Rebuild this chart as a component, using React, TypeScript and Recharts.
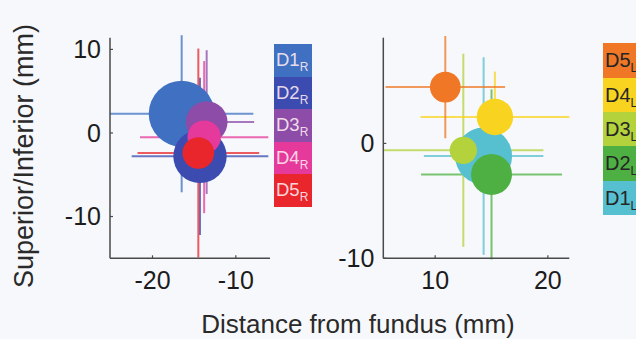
import { ScatterChart, Scatter, XAxis, YAxis, ZAxis, ErrorBar } from 'recharts'

// right-side (R) recordings, plotted in the left panel
const LEFT_LABELS = ['D1', 'D2', 'D3', 'D4', 'D5']
const LEFT_X = [-16.5, -14.3, -13.5, -13.8, -14.5]
const LEFT_Y = [2.3, -2.8, 1.3, -0.5, -2.4]
const LEFT_XERR = [8.6, 8.2, 5.7, 7.7, 7.3]
const LEFT_YERR = [9.4, 9.4, 8.6, 9.1, 12.5]
const LEFT_R = [3.95, 3.2, 2.5, 2.0, 1.9]
const LEFT_X_TICKS = [-20, -10]
const LEFT_Y_TICKS = [-10, 0, 10]

// left-side (L) recordings, plotted in the right panel
const RIGHT_LABELS = ['D1', 'D2', 'D3', 'D4', 'D5']
const RIGHT_X = [14.3, 15.0, 12.5, 15.3, 10.9]
const RIGHT_Y = [-1.1, -2.7, -0.6, 2.3, 4.9]
const RIGHT_XERR = [5.3, 6.25, 7.1, 6.6, 5.3]
const RIGHT_YERR = [8.6, 7.4, 8.4, 3.95, 4.45]
const RIGHT_R = [2.5, 1.8, 1.2, 1.6, 1.35]
const RIGHT_X_TICKS = [10, 20]
const RIGHT_Y_TICKS = [-10, 0]

const LEFT_COLORS = ['#3f70c2', '#3b4bb0', '#8c4ca8', '#e5399c', '#e8262c']
const RIGHT_COLORS = ['#57c0d0', '#4eb043', '#b3d23c', '#f8d31f', '#ef7726']

const FONT = '"Liberation Sans", Arial, Helvetica, sans-serif'
const AXIS = '#4a4a4a'
const BG = '#f7f8fb'
const H = 339
const X_H = 40
const Y_W = 50
const TM_X = 13
const TM_Y = 9

type Row = { label: string; x: number; y: number; xErr: number; yErr: number; z: number }

function rows(labels: string[], xs: number[], ys: number[], xe: number[], ye: number[], rs: number[]): Row[] {
  return labels.map((label, i) => ({ label, x: xs[i], y: ys[i], xErr: xe[i], yErr: ye[i], z: rs[i] * rs[i] }))
}

const xTick = (p: any) => (
  <g>
    <line x1={p.x} x2={p.x} y1={p.y - TM_X} y2={p.y - TM_X - 3} stroke={AXIS} strokeWidth={1.2} />
    <text x={p.x} y={p.y} dy="0.71em" textAnchor="middle" fontSize={25} fontFamily={FONT} fill="#1c1c1c">
      {p.payload.value}
    </text>
  </g>
)

const yTick = (p: any) => (
  <g>
    <line x1={p.x + TM_Y} x2={p.x + TM_Y + 3} y1={p.y} y2={p.y} stroke={AXIS} strokeWidth={1.2} />
    <text x={p.x} y={p.y} dy="0.355em" textAnchor="end" fontSize={25} fontFamily={FONT} fill="#1c1c1c">
      {p.payload.value}
    </text>
  </g>
)

type PanelProps = {
  data: Row[]
  colors: string[]
  xDomain: [number, number]
  yDomain: [number, number]
  xTicks: number[]
  yTicks: number[]
  width: number
  margin: { top: number; right: number; bottom: number; left: number }
}

function Panel({ data, colors, xDomain, yDomain, xTicks, yTicks, width, margin }: PanelProps) {
  const plotW = width - margin.left - margin.right - Y_W
  const plotH = H - margin.top - margin.bottom - X_H
  const k = (plotW / (xDomain[1] - xDomain[0]) + plotH / (yDomain[1] - yDomain[0])) / 2
  const zMax = 25
  return (
    <ScatterChart width={width} height={H} margin={margin}>
      <XAxis
        type="number"
        dataKey="x"
        domain={xDomain}
        ticks={xTicks}
        allowDataOverflow
        height={X_H}
        tickSize={0}
        tickMargin={TM_X}
        tickLine={false}
        axisLine={{ stroke: AXIS, strokeWidth: 1.5 }}
        tick={xTick}
      />
      <YAxis
        type="number"
        dataKey="y"
        domain={yDomain}
        ticks={yTicks}
        allowDataOverflow
        width={Y_W}
        tickSize={0}
        tickMargin={TM_Y}
        tickLine={false}
        axisLine={{ stroke: AXIS, strokeWidth: 1.5 }}
        tick={yTick}
      />
      <ZAxis type="number" dataKey="z" domain={[0, zMax]} range={[0, zMax * Math.PI * k * k]} />
      {data.map((d, i) => (
        <Scatter key={'c' + d.label} data={[d]} fill={colors[i]} isAnimationActive={false} />
      ))}
      {data.map((d, i) => (
        <Scatter key={'e' + d.label} data={[d]} shape={() => <g />} isAnimationActive={false}>
          <ErrorBar dataKey="xErr" direction="x" width={0} stroke={colors[i] + 'c0'} strokeWidth={2} isAnimationActive={false} />
          <ErrorBar dataKey="yErr" direction="y" width={0} stroke={colors[i] + 'c0'} strokeWidth={2} isAnimationActive={false} />
        </Scatter>
      ))}
    </ScatterChart>
  )
}

export default function App() {
  const leftData = rows(LEFT_LABELS, LEFT_X, LEFT_Y, LEFT_XERR, LEFT_YERR, LEFT_R)
  const rightData = rows(RIGHT_LABELS, RIGHT_X, RIGHT_Y, RIGHT_XERR, RIGHT_YERR, RIGHT_R)

  return (
    <div style={{ position: 'absolute', left: 0, top: 0, width: 636, height: H, background: BG, overflow: 'hidden', fontFamily: FONT }}>
      <div style={{ position: 'absolute', left: 0, top: 0 }}>
        <Panel
          data={leftData}
          colors={LEFT_COLORS}
          xDomain={[-25.1, -5.9]}
          yDomain={[-15, 11.4]}
          xTicks={LEFT_X_TICKS}
          yTicks={LEFT_Y_TICKS}
          width={320}
          margin={{ top: 37.7, right: 50, bottom: H - 258.3 - X_H, left: 110 - Y_W }}
        />
      </div>
      <div style={{ position: 'absolute', left: 320, top: 0 }}>
        <Panel
          data={rightData}
          colors={RIGHT_COLORS}
          xDomain={[5.4, 21.9]}
          yDomain={[-10, 9.2]}
          xTicks={RIGHT_X_TICKS}
          yTicks={RIGHT_Y_TICKS}
          width={316}
          margin={{ top: 37.7, right: 316 - 249.3, bottom: H - 258.3 - X_H, left: 63.3 - Y_W }}
        />
      </div>

      {/* legends */}
      <div style={{ position: 'absolute', left: 274, top: 44, width: 38 }}>
        {LEFT_LABELS.map((l, i) => (
          <div key={l} style={{ height: 32.6, lineHeight: '32.6px', background: LEFT_COLORS[i], color: 'rgba(255,236,240,0.9)', fontSize: 18.5, paddingLeft: 2, whiteSpace: 'nowrap' }}>
            {l}
            <sub style={{ fontSize: 12, lineHeight: 0 }}>R</sub>
          </div>
        ))}
      </div>
      <div style={{ position: 'absolute', left: 603, top: 43.3, width: 40 }}>
        {RIGHT_LABELS.map((l, i) => ({ l, c: RIGHT_COLORS[i] })).reverse().map(({ l, c }) => (
          <div key={l} style={{ height: 34.4, lineHeight: '34.4px', background: c, color: '#262626', fontSize: 20, paddingLeft: 2, whiteSpace: 'nowrap' }}>
            {l}
            <sub style={{ fontSize: 12, lineHeight: 0 }}>L</sub>
          </div>
        ))}
      </div>

      <svg width={636} height={H} style={{ position: 'absolute', left: 0, top: 0, pointerEvents: 'none' }}>
        <text transform="translate(33,156) rotate(-90)" textAnchor="middle" fontSize={27} fontFamily={FONT} fill="#2a2a2a">
          Superior/Inferior (mm)
        </text>
        <text x={358} y={333} textAnchor="middle" fontSize={26} fontFamily={FONT} fill="#2a2a2a">
          Distance from fundus (mm)
        </text>
      </svg>
    </div>
  )
}
